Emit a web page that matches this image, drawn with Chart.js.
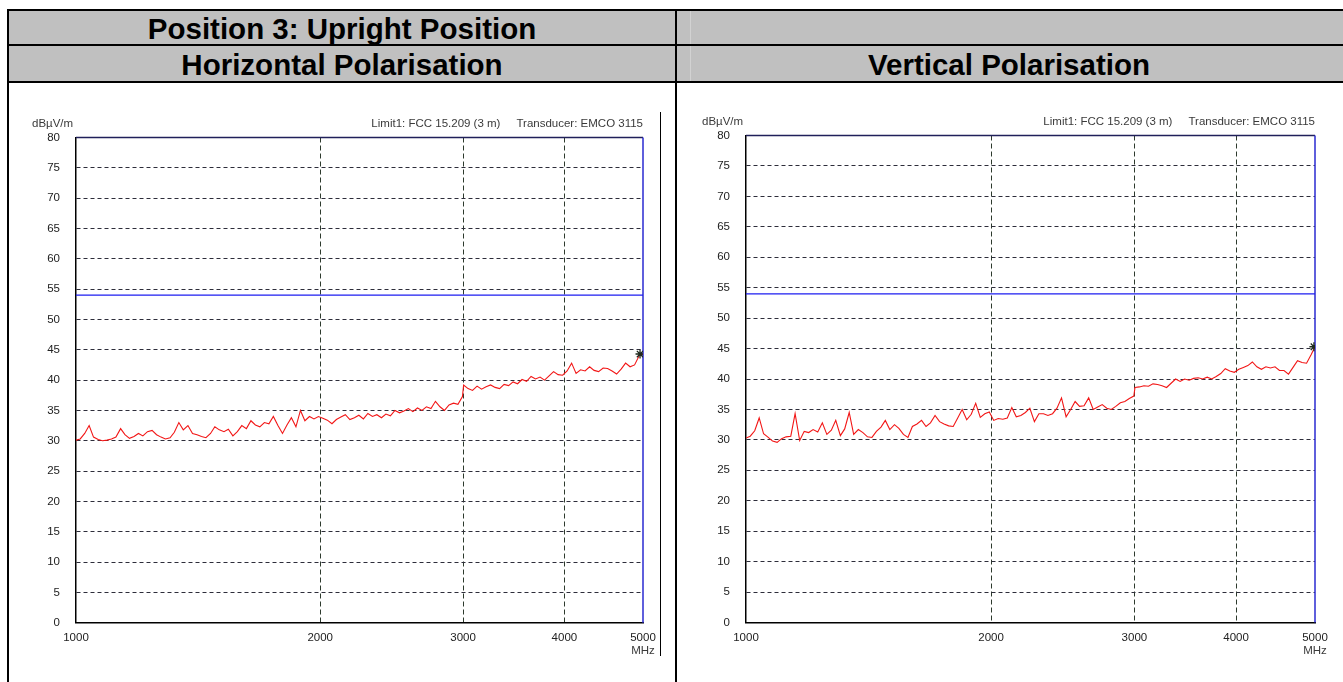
<!DOCTYPE html>
<html>
<head>
<meta charset="utf-8">
<title>Position 3: Upright Position</title>
<script src="https://cdn.jsdelivr.net/npm/chart.js@4.4.1/dist/chart.umd.min.js"></script>
<style>
  body { margin: 0; width: 1343px; height: 682px; overflow: hidden; position: relative; background: #fff;
         font-family: "Liberation Sans", Arial, sans-serif; }
  .cell { position: absolute; background: #c0c0c0; }
  .rule { position: absolute; background: #000; }
  .head { position: absolute; display: flex; align-items: center; justify-content: center;
          font-weight: bold; font-size: 29.5px; color: #000; white-space: nowrap; }
  canvas { position: absolute; }
</style>
</head>
<body>
<!-- grey header rows -->
<div class="cell" style="left:9px;top:11px;width:1334px;height:70px"></div>
<div class="rule" style="left:690px;top:11px;width:1px;height:70px;background:#d2d2d2"></div>

<!-- table borders -->
<div class="rule" style="left:7px;top:9px;width:1336px;height:2px"></div>
<div class="rule" style="left:7px;top:44px;width:1336px;height:2px"></div>
<div class="rule" style="left:7px;top:81px;width:1336px;height:2px"></div>
<div class="rule" style="left:7px;top:9px;width:2px;height:673px"></div>
<div class="rule" style="left:675px;top:9px;width:2px;height:673px"></div>
<div class="rule" style="left:660px;top:112px;width:1px;height:544px"></div>

<div class="head" style="left:9px;top:12px;width:666px;height:33px">Position 3: Upright Position</div>
<div class="head" style="left:9px;top:47px;width:666px;height:35px">Horizontal Polarisation</div>
<div class="head" style="left:677px;top:47px;width:664px;height:35px">Vertical Polarisation</div>

<canvas id="horiz" width="656" height="570" style="left:14px;top:100px;width:656px;height:570px"></canvas>
<canvas id="vert" width="656" height="572" style="left:684px;top:98px;width:656px;height:572px"></canvas>

<script>
// sweep frequencies, MHz
const freqMHz = [
  1000, 1012, 1025, 1038, 1051, 1065, 1078, 1092, 1106, 1120,
  1135, 1149, 1164, 1179, 1194, 1209, 1225, 1241, 1257, 1273,
  1289, 1306, 1322, 1339, 1356, 1374, 1392, 1410, 1428, 1446,
  1465, 1483, 1502, 1522, 1541, 1561, 1581, 1601, 1622, 1643,
  1664, 1685, 1707, 1729, 1751, 1774, 1797, 1820, 1843, 1867,
  1891, 1915, 1940, 1965, 1990, 2015, 2041, 2068, 2094, 2121,
  2148, 2176, 2204, 2232, 2261, 2290, 2320, 2349, 2380, 2410,
  2441, 2473, 2505, 2537, 2569, 2602, 2636, 2670, 2704, 2739,
  2774, 2810, 2846, 2883, 2920, 2957, 2995, 3005, 3043, 3082,
  3122, 3162, 3203, 3244, 3286, 3328, 3371, 3414, 3458, 3502,
  3547, 3593, 3639, 3686, 3733, 3781, 3830, 3879, 3929, 3980,
  4031, 4083, 4135, 4188, 4242, 4297, 4352, 4408, 4465, 4522,
  4580, 4639, 4699, 4759, 4820, 4882, 4945, 5000
];

// measured field strength, dBµV/m
const levelHoriz = [
  30.1, 30.3, 31.2, 32.5, 30.6, 30.2, 30.0, 30.1, 30.3, 30.6,
  32.0, 31.0, 30.4, 30.7, 31.2, 30.8, 31.5, 31.7, 31.0, 30.6,
  30.3, 30.5, 31.4, 33.0, 31.8, 32.5, 31.2, 31.0, 30.7, 30.5,
  31.2, 32.3, 31.8, 31.5, 31.9, 30.8, 31.5, 32.5, 32.0, 33.3,
  32.6, 32.3, 33.0, 32.8, 34.0, 32.5, 31.2, 32.6, 33.8, 32.3,
  35.0, 33.3, 34.0, 33.6, 34.0, 33.7, 33.4, 32.8, 33.5, 33.9,
  34.3, 33.5, 33.8, 34.2, 33.6, 34.5, 34.0, 34.3, 33.8, 34.4,
  34.1, 35.0, 34.6, 34.9, 35.3, 34.8, 35.4, 35.0, 35.6, 35.3,
  36.5, 35.6, 35.0, 35.9, 36.2, 36.0, 37.3, 39.2, 38.6, 38.3,
  39.0, 38.5, 38.9, 39.2, 38.8, 38.6, 39.3, 39.1, 39.7, 39.4,
  40.1, 39.8, 40.6, 40.2, 40.5, 40.0, 40.7, 41.4, 40.9, 40.8,
  41.5, 42.8, 41.1, 41.7, 41.5, 42.2, 41.6, 41.4, 42.0, 41.9,
  41.5, 41.0, 41.8, 42.8, 42.2, 42.5, 44.0, 44.3
];

const levelVert = [
  30.3, 30.6, 31.5, 33.6, 31.0, 30.4, 29.8, 29.6, 30.2, 30.5,
  30.6, 34.3, 29.9, 31.4, 31.2, 31.7, 31.3, 32.8, 30.9, 31.6,
  33.2, 30.7, 31.8, 34.5, 30.9, 31.7, 31.2, 30.5, 30.4, 31.4,
  32.1, 33.2, 31.7, 32.5, 31.9, 30.9, 30.4, 32.2, 32.6, 33.2,
  32.2, 32.8, 34.0, 33.0, 32.6, 32.3, 32.2, 33.6, 35.0, 33.3,
  34.2, 36.0, 33.7, 34.3, 34.6, 33.2, 33.5, 33.4, 33.6, 35.3,
  33.8, 34.0, 34.5, 35.2, 33.0, 34.3, 34.3, 34.0, 34.3, 35.2,
  36.9, 33.8, 35.0, 36.3, 35.5, 35.6, 36.9, 35.0, 35.4, 35.8,
  35.2, 35.0, 35.5, 36.1, 36.3, 36.8, 37.2, 38.6, 38.7, 38.9,
  38.8, 39.2, 39.1, 38.9, 38.6, 39.3, 40.0, 39.6, 40.0, 39.8,
  40.1, 40.2, 40.0, 40.3, 40.0, 40.4, 40.9, 41.7, 41.3, 41.1,
  41.6, 41.9, 42.2, 42.8, 42.0, 41.6, 42.0, 41.8, 42.0, 41.4,
  41.4, 40.8, 41.9, 43.0, 42.7, 42.6, 44.0, 45.3
];

// FCC 15.209 limit at 3 m
const limitFreq = [1000, 5000];
const limitLevel = [54, 54];

// peak markers (horizontal, vertical)
const peakFreq = [4958, 4985];
const peakLevel = [44.3, 45.3];

const xTickValues = [1000, 2000, 3000, 4000, 5000];
const yMin = 0, yMax = 80, yStep = 5;

const FONT = "'Liberation Sans', Arial, sans-serif";

// frame (top/right) plus the header texts above the plot
const scanFrame = {
  id: 'scanFrame',
  beforeDatasetsDraw(chart) {
    const { ctx, chartArea: a } = chart;
    ctx.save();
    ctx.lineWidth = 1.5;
    ctx.strokeStyle = '#20205a';
    ctx.beginPath(); ctx.moveTo(a.left, a.top); ctx.lineTo(a.right, a.top); ctx.stroke();
    ctx.strokeStyle = '#2a2ad0';
    ctx.beginPath(); ctx.moveTo(a.right, a.top); ctx.lineTo(a.right, a.bottom); ctx.stroke();
    ctx.restore();
  },
  afterDraw(chart) {
    const { ctx, chartArea: a } = chart;
    ctx.save();
    ctx.font = '11.5px ' + FONT;
    ctx.fillStyle = '#3a3a3a';
    ctx.textBaseline = 'middle';
    ctx.textAlign = 'left';
    ctx.fillText('dBµV/m', a.left - 44, a.top - 14);
    ctx.textAlign = 'right';
    const tr = 'Transducer: EMCO 3115';
    ctx.fillText(tr, a.right, a.top - 14);
    ctx.fillText('Limit1: FCC 15.209 (3 m)', a.right - ctx.measureText(tr).width - 16, a.top - 14);
    ctx.textAlign = 'center';
    ctx.fillText('MHz', a.right, a.bottom + 28);
    ctx.restore();
  }
};

function makeScan(id, levels, peakIdx, box) {
  const trace = freqMHz.map((f, i) => ({ x: f, y: levels[i] }));
  const limit = limitFreq.map((f, i) => ({ x: f, y: limitLevel[i] }));
  const peak = [{ x: peakFreq[peakIdx], y: peakLevel[peakIdx] }];

  return new Chart(document.getElementById(id), {
    type: 'line',
    data: {
      datasets: [
        {
          data: peak,
          showLine: false,
          pointStyle: 'star',
          pointRadius: 4.5,
          pointBorderColor: '#1e2a1e',
          pointBorderWidth: 1.3,
          order: 0,
        },
        {
          data: trace,
          borderColor: '#f21616',
          borderWidth: 1.1,
          pointRadius: 0,
          tension: 0,
          order: 1,
        },
        {
          data: limit,
          borderColor: '#1c1cf0',
          borderWidth: 1.3,
          pointRadius: 0,
          order: 2,
        },
      ],
    },
    options: {
      responsive: false,
      animation: false,
      layout: { padding: { left: 0, top: box.top, right: box.right, bottom: 0 } },
      plugins: { legend: { display: false }, tooltip: { enabled: false } },
      scales: {
        x: {
          type: 'logarithmic',
          min: 1000,
          max: 5000,
          afterBuildTicks: (s) => { s.ticks = xTickValues.map(v => ({ value: v })); },
          afterFit: (s) => { s.height = box.bottom; },
          ticks: {
            autoSkip: false,
            maxRotation: 0,
            padding: 8,
            color: '#222',
            font: { family: FONT, size: 11.5 },
            callback: (v) => String(v),
          },
          grid: {
            drawTicks: false,
            color: (c) => (c.tick && (c.tick.value === 1000 || c.tick.value === 5000)) ? 'rgba(0,0,0,0)' : '#2d3a2d',
            lineWidth: 1,
          },
          border: { color: '#000', width: 1.5, dash: [5, 3] },
        },
        y: {
          min: yMin,
          max: yMax,
          afterFit: (s) => { s.width = box.left; },
          ticks: {
            stepSize: yStep,
            padding: 16,
            color: '#222',
            font: { family: FONT, size: 11.5 },
          },
          grid: {
            drawTicks: false,
            color: '#2d2d3a',
            lineWidth: 1,
          },
          border: { color: '#000', width: 1.5, dash: [4, 3] },
        },
      },
    },
    plugins: [scanFrame],
  });
}

makeScan('horiz', levelHoriz, 0, { left: 62, top: 37.5, right: 27, bottom: 47.3 });
makeScan('vert', levelVert, 1, { left: 62, top: 37.5, right: 25, bottom: 47.5 });
</script>
</body>
</html>
